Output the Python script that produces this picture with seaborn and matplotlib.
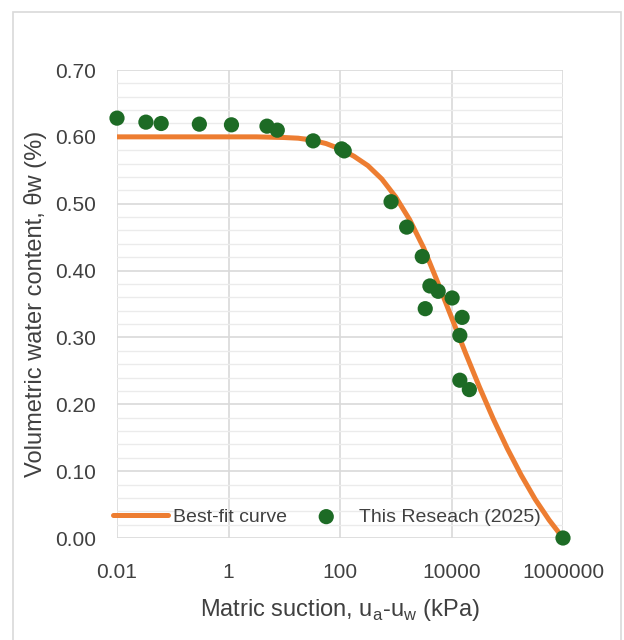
import numpy as np
import pandas as pd
import matplotlib
matplotlib.use("Agg")
import matplotlib.pyplot as plt
from matplotlib.patches import Rectangle
from matplotlib.ticker import FixedLocator, MultipleLocator, NullFormatter
import seaborn as sns

# ---- data ----
suction_obs = [0.01, 0.033, 0.062, 0.30, 1.13, 4.9, 7.5, 33, 107, 119, 824,
               1570, 2990, 4100, 5770, 3380, 10260, 15500, 14100, 14100, 20900, 1000000]
theta_obs = [0.628, 0.622, 0.620, 0.619, 0.618, 0.616, 0.610, 0.594, 0.582, 0.579, 0.503,
             0.465, 0.421, 0.377, 0.369, 0.343, 0.359, 0.330, 0.303, 0.236, 0.222, 0.000]

suction_fit = [0.01, 0.1, 1, 3.16, 10, 17.8, 31.6, 56.2, 100, 178, 316, 562, 1000, 1778,
               3162, 5623, 10000, 17783, 31623, 56234, 100000, 177828, 316228, 562341,
               1000000]
theta_fit = [0.600, 0.600, 0.600, 0.600, 0.599, 0.598, 0.595, 0.590, 0.582, 0.571, 0.557,
             0.537, 0.510, 0.476, 0.434, 0.383, 0.330, 0.277, 0.226, 0.178, 0.134, 0.094,
             0.058, 0.027, 0.000]

x_ticks = [0.01, 1, 100, 10000, 1000000]
x_tick_labels = ["0.01", "1", "100", "10000", "1000000"]
y_ticks = [0.0, 0.1, 0.2, 0.3, 0.4, 0.5, 0.6, 0.7]
y_tick_labels = ["0.00", "0.10", "0.20", "0.30", "0.40", "0.50", "0.60", "0.70"]

obs = pd.DataFrame({"suction": suction_obs, "theta": theta_obs})
fit = pd.DataFrame({"suction": suction_fit, "theta": theta_fit})

sns.set_theme(style="white")
plt.rcParams["font.family"] = ["Liberation Sans", "DejaVu Sans"]
plt.rcParams["mathtext.fontset"] = "custom"
plt.rcParams["mathtext.rm"] = "Liberation Sans"

W, H = 624, 640
fig = plt.figure(figsize=(W / 100, H / 100), dpi=100)
ax = fig.add_axes([117 / W, 1 - 538 / H, (563 - 117) / W, (538 - 70) / H])

grid_major = "#D9D9D9"
grid_minor = "#EBEBEB"
text_col = "#404040"

sns.lineplot(data=fit, x="suction", y="theta", ax=ax, color="#ED7D31", linewidth=3.6,
             label="Best-fit curve", zorder=3, sort=False)
sns.scatterplot(data=obs, x="suction", y="theta", ax=ax, color="#1D6B25", s=120,
                edgecolor="none", label="This Reseach (2025)", zorder=4, clip_on=False)

ax.set_xscale("log")
ax.set_xlim(0.01, 1000000)
ax.set_ylim(0, 0.70)

ax.xaxis.set_major_locator(FixedLocator(x_ticks))
ax.set_xticklabels(x_tick_labels)
ax.xaxis.set_minor_locator(FixedLocator([]))
ax.yaxis.set_major_locator(FixedLocator(y_ticks))
ax.set_yticklabels(y_tick_labels)
ax.yaxis.set_minor_locator(MultipleLocator(0.02))
ax.yaxis.set_minor_formatter(NullFormatter())

ax.grid(True, which="major", axis="both", color=grid_major, linewidth=1.2, zorder=0)
ax.grid(True, which="minor", axis="y", color=grid_minor, linewidth=1.0, zorder=0)
ax.set_axisbelow(True)
for sp in ax.spines.values():
    sp.set_visible(False)

ax.tick_params(axis="both", which="both", length=0, labelsize=15, colors=text_col)
ax.tick_params(axis="x", pad=18)
ax.tick_params(axis="y", pad=15)

ax.set_xlabel(r"Matric suction, u$_\mathregular{a}$-u$_\mathregular{w}$ (kPa)",
              fontsize=17, color=text_col, labelpad=11)
ax.set_ylabel("Volumetric water content, θw (%)", fontsize=17, color=text_col, labelpad=6)

leg = ax.legend(loc="center", bbox_to_anchor=(0.471, 0.045), ncol=2, frameon=False,
                fontsize=14, handlelength=2.8, columnspacing=0.6, handletextpad=0.3,
                labelcolor=text_col)

fig.patches.append(Rectangle((12.5 / W, -0.02), (621 - 12.5) / W, 1.02 - 11.5 / H,
                             transform=fig.transFigure, fill=False,
                             edgecolor="#D9D9D9", linewidth=1.2))

fig.savefig("out.png", dpi=100, facecolor="white")
